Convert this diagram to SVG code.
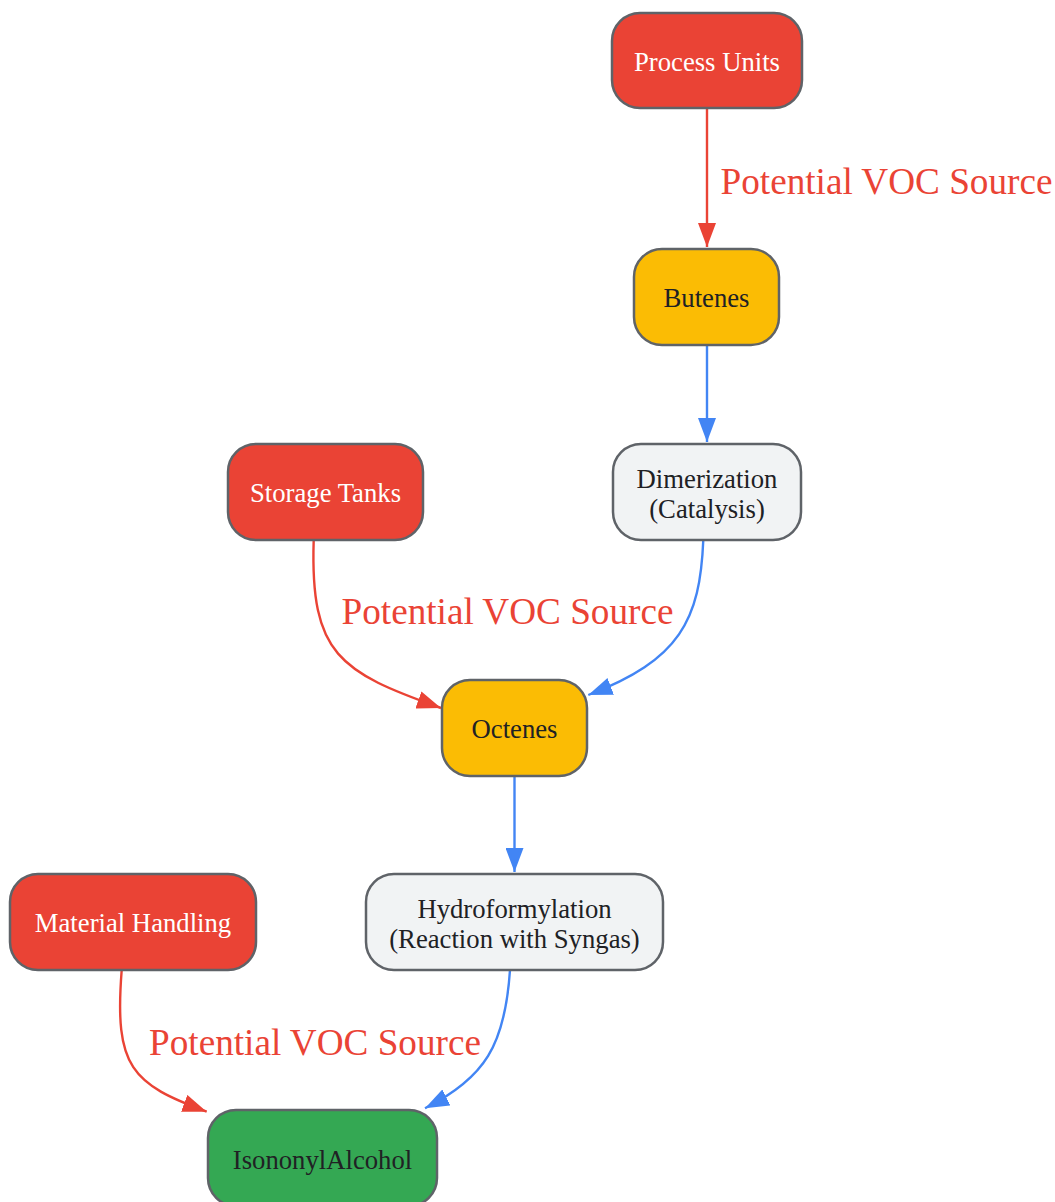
<svg xmlns="http://www.w3.org/2000/svg" width="1055" height="1202" viewBox="0 0 1055 1202">
<style>
.node rect{stroke:#5f6368;stroke-width:2.5}
.red rect{fill:#EA4335}
.yel rect{fill:#FBBC04}
.gry rect{fill:#F1F3F4}
.grn rect{fill:#34A853}
.node text{font-family:"Liberation Serif","Times New Roman",serif;font-size:26.7px;text-anchor:middle;dominant-baseline:central;fill:#202124}
.red text{fill:#ffffff}
.e{fill:none;stroke-width:2.4}
.er{stroke:#EA4335}
.eb{stroke:#4285F4}
.lbl{font-family:"Liberation Serif","Times New Roman",serif;font-size:37.2px;fill:#EA4335;text-anchor:middle;dominant-baseline:central}
</style>
<defs>
<marker id="ar" viewBox="0 0 24 18" refX="24" refY="9" markerWidth="24" markerHeight="18" markerUnits="userSpaceOnUse" orient="auto"><path d="M0,0 L24,9 L0,18 Z" fill="#EA4335"/></marker>
<marker id="ab" viewBox="0 0 24 18" refX="24" refY="9" markerWidth="24" markerHeight="18" markerUnits="userSpaceOnUse" orient="auto"><path d="M0,0 L24,9 L0,18 Z" fill="#4285F4"/></marker>
</defs>
<rect width="1055" height="1202" fill="#ffffff"/>
<g id="edges">
<path class="e er" d="M707,108 L707,247" marker-end="url(#ar)"/>
<path class="e eb" d="M707,345 L707,442" marker-end="url(#ab)"/>
<path class="e er" d="M313.7,540 C310,655 340,672 441,708" marker-end="url(#ar)"/>
<path class="e eb" d="M703.3,540 C700,620 680,660 588.3,695" marker-end="url(#ab)"/>
<path class="e eb" d="M514.5,776 L514.5,872" marker-end="url(#ab)"/>
<path class="e er" d="M121.7,970 C114,1068 132,1084 206.7,1111.7" marker-end="url(#ar)"/>
<path class="e eb" d="M510,970 C505,1045 485,1078 425,1108.3" marker-end="url(#ab)"/>
<text class="lbl" x="886.5" y="181">Potential VOC Source</text>
<text class="lbl" x="507.5" y="611">Potential VOC Source</text>
<text class="lbl" x="315" y="1042">Potential VOC Source</text>
</g>
<g id="process_units" class="node red"><rect x="612" y="13" width="190" height="95" rx="28"/><text x="707" y="62">Process Units</text></g>
<g id="butenes" class="node yel"><rect x="634" y="249" width="145" height="96" rx="28"/><text x="706.5" y="298">Butenes</text></g>
<g id="dimerization" class="node gry"><rect x="613" y="444" width="188" height="96" rx="28"/><text x="707" y="479">Dimerization</text><text x="707" y="509">(Catalysis)</text></g>
<g id="storage_tanks" class="node red"><rect x="228" y="444" width="195" height="96" rx="28"/><text x="325.5" y="493">Storage Tanks</text></g>
<g id="octenes" class="node yel"><rect x="442" y="680" width="145" height="96" rx="28"/><text x="514.5" y="729">Octenes</text></g>
<g id="material_handling" class="node red"><rect x="10" y="874" width="246" height="96" rx="28"/><text x="133" y="923">Material Handling</text></g>
<g id="hydroformylation" class="node gry"><rect x="366" y="874" width="297" height="96" rx="28"/><text x="514.5" y="909">Hydroformylation</text><text x="514.5" y="939">(Reaction with Syngas)</text></g>
<g id="isononyl_alcohol" class="node grn"><rect x="208" y="1110" width="229" height="96" rx="28"/><text x="322.5" y="1160">IsononylAlcohol</text></g>
</svg>
